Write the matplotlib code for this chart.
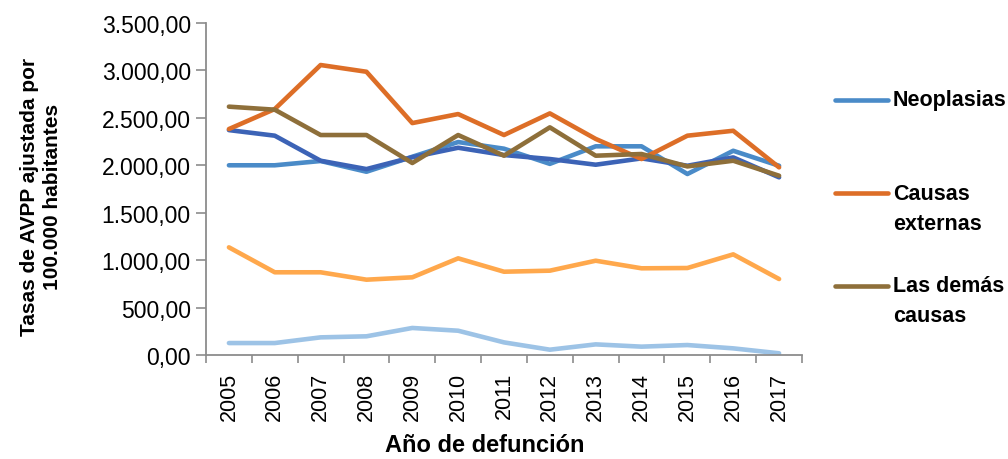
import numpy as np
import matplotlib
matplotlib.use("Agg")
import matplotlib.pyplot as plt
from matplotlib.lines import Line2D
from matplotlib.ticker import FuncFormatter

plt.rcParams['font.family'] = ['Liberation Sans', 'DejaVu Sans']

years = ['2005', '2006', '2007', '2008', '2009', '2010', '2011',
         '2012', '2013', '2014', '2015', '2016', '2017']

# values (tasas AVPP por 100.000 hab.)
signos_mal_definidos = [126, 126, 186, 197, 285, 256, 133, 56, 112, 88, 105, 70, 18]
transmisibles = [1135, 872, 872, 794, 819, 1019, 878, 889, 994, 914, 917, 1061, 801]
neoplasias = [2000, 2000, 2045, 1932, 2090, 2245, 2175, 2015, 2200, 2200, 1908, 2153, 1995]
circulatorio = [2371, 2312, 2048, 1960, 2085, 2185, 2108, 2066, 2006, 2073, 1995, 2083, 1873]
causas_externas = [2382, 2593, 3057, 2986, 2445, 2540, 2319, 2547, 2278, 2066, 2312, 2364, 1978]
demas_causas = [2618, 2586, 2319, 2319, 2024, 2319, 2101, 2400, 2101, 2119, 1988, 2048, 1890]

series_names = ['Signos y síntomas mal definidos', 'Enfermedades transmisibles',
                'Neoplasias', 'Enfermedades sistema circulatorio',
                'Causas\nexternas', 'Las demás\ncausas']
series_vals = [signos_mal_definidos, transmisibles, neoplasias, circulatorio,
               causas_externas, demas_causas]
series_colors = ['#9DC3E6', '#FFA84C', '#4A8BC8', '#3C63B6', '#DD6E27', '#8E6F3A']
legend_idx = [2, 4, 5]  # only these show up in the (cropped) legend

fig = plt.figure(figsize=(10.08, 4.6), dpi=100)
ax = fig.add_axes([206/1008, 1-356/460, 596/1008, 332/460])

x = np.arange(len(years))
for name, vals, col in zip(series_names, series_vals, series_colors):
    ax.plot(x, vals, color=col, lw=3.3, solid_capstyle='round',
            solid_joinstyle='round', label=name)

ax.set_xlim(-0.5, len(years) - 0.5)
ax.set_ylim(0, 3500)
ax.set_yticks(np.arange(0, 3501, 500))
ax.yaxis.set_major_formatter(FuncFormatter(
    lambda v, p: f"{v:,.2f}".replace(',', 'X').replace('.', ',').replace('X', '.')))
ax.set_xticks(x)
ax.set_xticklabels(years, rotation=90)
ax.set_xticks(np.arange(-0.5, len(years)), minor=True)

ax.tick_params(axis='x', which='major', length=0, pad=12, labelsize=15.5)
ax.tick_params(axis='x', which='minor', length=6, width=1.2, color='#8c8c8c')
ax.tick_params(axis='y', length=7, width=1.2, color='#8c8c8c', pad=4, labelsize=16.5)

for s in ['top', 'right']:
    ax.spines[s].set_visible(False)
for s in ['left', 'bottom']:
    ax.spines[s].set_color('#8c8c8c')
    ax.spines[s].set_linewidth(1.3)

fig.text(41/1008, 1-197/460, 'Tasas de AVPP ajustada por\n100.000 habitantes',
         rotation=90, ha='center', va='center', multialignment='center',
         fontsize=15, fontweight='bold', linespacing=1.25)
fig.text(485/1008, 1-446/460, 'Año de defunción', ha='center', va='center',
         fontsize=17, fontweight='bold')

# legend, drawn by hand so the line sits beside the first text line
leg_y = [101, 194, 287]
for yy, i in zip(leg_y, legend_idx):
    fig.add_artist(Line2D([835/1008, 888/1008], [1-yy/460, 1-yy/460],
                          transform=fig.transFigure, color=series_colors[i],
                          lw=3.3, solid_capstyle='round'))
    for j, part in enumerate(series_names[i].split('\n')):
        fig.text(893/1008, 1-(yy + j*30)/460, part, ha='left', va='center',
                 fontsize=15.5, fontweight='bold')

fig.savefig('out.png', dpi=100)
